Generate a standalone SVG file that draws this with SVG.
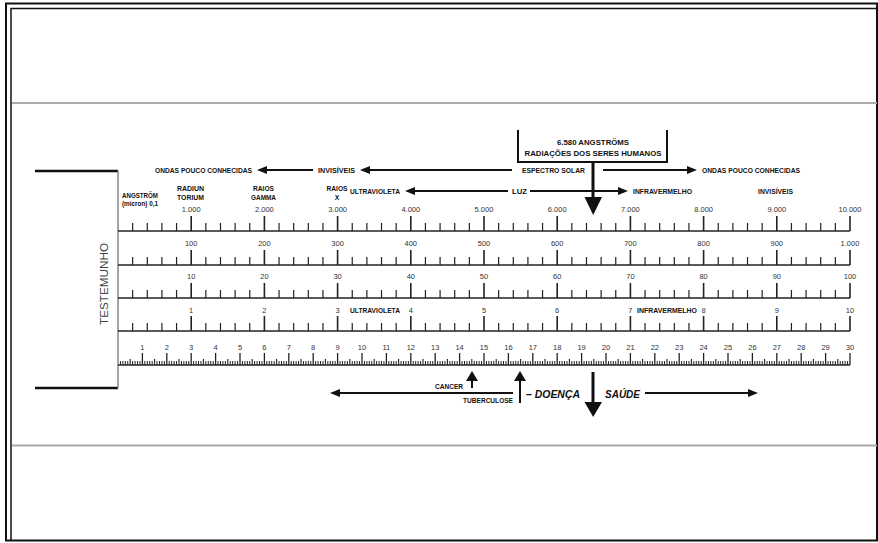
<svg xmlns="http://www.w3.org/2000/svg" width="878" height="543" viewBox="0 0 878 543">
<style>
.lbl{font-family:"Liberation Sans",Arial,sans-serif;font-weight:bold;font-size:8px;fill:#111}
.sm{font-size:6.8px}
.it{font-style:italic;font-size:10px}
.num{font-family:"Liberation Sans",Arial,sans-serif;font-size:7.5px;fill:#333;text-anchor:middle}
.ln{stroke:#111;stroke-width:2;fill:none}
.tk{stroke:#222;fill:none}
</style>
<defs>
<marker id="ah" viewBox="0 0 10 8" refX="7" refY="4" markerWidth="10" markerHeight="8" markerUnits="userSpaceOnUse" orient="auto"><path d="M0,0L10,4L0,8z" fill="#111"/></marker>
<marker id="ah2" viewBox="0 0 10 12" refX="7" refY="6" markerWidth="10" markerHeight="12" markerUnits="userSpaceOnUse" orient="auto"><path d="M0,0L10,6L0,12z" fill="#111"/></marker>
<g id="seg" class="tk"><path d="M14.64,0v-8M29.28,0v-8M43.92,0v-8M58.56,0v-8" stroke-width="1.2"/><path d="M73.2,0v-15" stroke-width="1.6"/></g>
<g id="row"><path d="M0,0H732" class="tk" stroke-width="1.6"/><use href="#seg" x="0"/><use href="#seg" x="73.2"/><use href="#seg" x="146.4"/><use href="#seg" x="219.6"/><use href="#seg" x="292.8"/><use href="#seg" x="366"/><use href="#seg" x="439.2"/><use href="#seg" x="512.4"/><use href="#seg" x="585.6"/><use href="#seg" x="658.8"/></g>
<g id="unit" class="tk"><path d="M2.44,0v-4M4.88,0v-4M7.32,0v-4M9.76,0v-4M14.64,0v-4M17.08,0v-4M19.52,0v-4M21.96,0v-4" stroke-width="1"/><path d="M12.2,0v-6" stroke-width="1.1"/><path d="M24.4,0v-12" stroke-width="1.3"/></g>
<g id="five"><use href="#unit" x="0"/><use href="#unit" x="24.4"/><use href="#unit" x="48.8"/><use href="#unit" x="73.2"/><use href="#unit" x="97.6"/></g>
</defs>
<rect width="878" height="543" fill="#fff"/>
<g id="frame">
<rect x="6" y="3.5" width="871" height="537" fill="none" stroke="#111" stroke-width="2"/>
<path d="M11,541V8.5H877" fill="none" stroke="#111" stroke-width="1.5"/>
<path d="M12,103H877M12,445.5H877" stroke="#aaa" stroke-width="2"/>
</g>
<g id="testemunho">
<path d="M35,171H118M35,388H118" stroke="#111" stroke-width="2.5"/>
<path d="M118,171V388" stroke="#888" stroke-width="1.5"/>
<text transform="translate(108,284) rotate(-90)" text-anchor="middle" font-family="Liberation Sans,Arial,sans-serif" font-size="10" fill="#444" textLength="82" lengthAdjust="spacingAndGlyphs">TESTEMUNHO</text>
</g>
<g id="scales">
<use href="#row" x="118" y="231"/>
<use href="#row" x="118" y="265"/>
<use href="#row" x="118" y="298"/>
<use href="#row" x="118" y="331"/>
<path d="M118,365H850" class="tk" stroke-width="1.6"/>
<g transform="translate(118,365)"><use href="#five" x="0"/><use href="#five" x="122"/><use href="#five" x="244"/><use href="#five" x="366"/><use href="#five" x="488"/><use href="#five" x="610"/></g>
</g>
<g id="row1-labels">
<text class="num" x="191.2" y="212">1.000</text><text class="num" x="264.4" y="212">2.000</text><text class="num" x="337.6" y="212">3.000</text><text class="num" x="410.8" y="212">4.000</text><text class="num" x="484" y="212">5.000</text><text class="num" x="557.2" y="212">6.000</text><text class="num" x="630.4" y="212">7.000</text><text class="num" x="703.6" y="212">8.000</text><text class="num" x="776.8" y="212">9.000</text><text class="num" x="850" y="212">10.000</text>
</g>
<g id="row2-labels">
<text class="num" x="191.2" y="246">100</text><text class="num" x="264.4" y="246">200</text><text class="num" x="337.6" y="246">300</text><text class="num" x="410.8" y="246">400</text><text class="num" x="484" y="246">500</text><text class="num" x="557.2" y="246">600</text><text class="num" x="630.4" y="246">700</text><text class="num" x="703.6" y="246">800</text><text class="num" x="776.8" y="246">900</text><text class="num" x="850" y="246">1.000</text>
</g>
<g id="row3-labels">
<text class="num" x="191.2" y="279">10</text><text class="num" x="264.4" y="279">20</text><text class="num" x="337.6" y="279">30</text><text class="num" x="410.8" y="279">40</text><text class="num" x="484" y="279">50</text><text class="num" x="557.2" y="279">60</text><text class="num" x="630.4" y="279">70</text><text class="num" x="703.6" y="279">80</text><text class="num" x="776.8" y="279">90</text><text class="num" x="850" y="279">100</text>
</g>
<g id="row4-labels">
<text class="num" x="191.2" y="313">1</text><text class="num" x="264.4" y="313">2</text><text class="num" x="337.6" y="313">3</text><text class="num" x="410.8" y="313">4</text><text class="num" x="484" y="313">5</text><text class="num" x="557.2" y="313">6</text><text class="num" x="630.4" y="313">7</text><text class="num" x="703.6" y="313">8</text><text class="num" x="776.8" y="313">9</text><text class="num" x="850" y="313">10</text>
<text class="lbl sm" x="350" y="313" textLength="50" lengthAdjust="spacingAndGlyphs">ULTRAVIOLETA</text>
<text class="lbl sm" x="637" y="313" textLength="60" lengthAdjust="spacingAndGlyphs">INFRAVERMELHO</text>
</g>
<g id="ruler-labels">
<text class="num" x="142.4" y="350">1</text><text class="num" x="166.8" y="350">2</text><text class="num" x="191.2" y="350">3</text><text class="num" x="215.6" y="350">4</text><text class="num" x="240" y="350">5</text><text class="num" x="264.4" y="350">6</text><text class="num" x="288.8" y="350">7</text><text class="num" x="313.2" y="350">8</text><text class="num" x="337.6" y="350">9</text><text class="num" x="362" y="350">10</text><text class="num" x="386.4" y="350">11</text><text class="num" x="410.8" y="350">12</text><text class="num" x="435.2" y="350">13</text><text class="num" x="459.6" y="350">14</text><text class="num" x="484" y="350">15</text><text class="num" x="508.4" y="350">16</text><text class="num" x="532.8" y="350">17</text><text class="num" x="557.2" y="350">18</text><text class="num" x="581.6" y="350">19</text><text class="num" x="606" y="350">20</text><text class="num" x="630.4" y="350">21</text><text class="num" x="654.8" y="350">22</text><text class="num" x="679.2" y="350">23</text><text class="num" x="703.6" y="350">24</text><text class="num" x="728" y="350">25</text><text class="num" x="752.4" y="350">26</text><text class="num" x="776.8" y="350">27</text><text class="num" x="801.2" y="350">28</text><text class="num" x="825.6" y="350">29</text><text class="num" x="850" y="350">30</text>
</g>
<g id="angstrom">
<text class="lbl sm" x="122" y="198" textLength="36" lengthAdjust="spacingAndGlyphs">ANGSTRÖM</text>
<text class="lbl sm" x="122" y="206" textLength="36" lengthAdjust="spacingAndGlyphs">(micron) 0,1</text>
</g>
<g id="radiun" text-anchor="middle">
<text class="lbl sm" x="190.5" y="191" textLength="27" lengthAdjust="spacingAndGlyphs">RADIUN</text>
<text class="lbl sm" x="190.5" y="200" textLength="27" lengthAdjust="spacingAndGlyphs">TORIUM</text>
</g>
<g id="gamma" text-anchor="middle">
<text class="lbl sm" x="263.5" y="191" textLength="21" lengthAdjust="spacingAndGlyphs">RAIOS</text>
<text class="lbl sm" x="263.5" y="200" textLength="25" lengthAdjust="spacingAndGlyphs">GAMMA</text>
</g>
<g id="raiosx" text-anchor="middle">
<text class="lbl sm" x="337" y="191" textLength="21" lengthAdjust="spacingAndGlyphs">RAIOS</text>
<text class="lbl sm" x="337" y="200">X</text>
</g>
<g id="ondas-left"><text class="lbl sm" x="155" y="173" textLength="97" lengthAdjust="spacingAndGlyphs">ONDAS POUCO CONHECIDAS</text></g>
<g id="invisiveis-left"><text class="lbl sm" x="318" y="173" textLength="37" lengthAdjust="spacingAndGlyphs">INVISÍVEIS</text></g>
<g id="espectro"><text class="lbl sm" x="522" y="173" textLength="63" lengthAdjust="spacingAndGlyphs">ESPECTRO SOLAR</text></g>
<g id="ondas-right"><text class="lbl sm" x="702" y="173" textLength="98" lengthAdjust="spacingAndGlyphs">ONDAS POUCO CONHECIDAS</text></g>
<g id="uv-top"><text class="lbl sm" x="350" y="194" textLength="50" lengthAdjust="spacingAndGlyphs">ULTRAVIOLETA</text></g>
<g id="luz"><text class="lbl sm" x="512" y="194" textLength="15" lengthAdjust="spacingAndGlyphs">LUZ</text></g>
<g id="ir-top"><text class="lbl sm" x="633" y="194" textLength="59" lengthAdjust="spacingAndGlyphs">INFRAVERMELHO</text></g>
<g id="invisiveis-right"><text class="lbl sm" x="758" y="194" textLength="35" lengthAdjust="spacingAndGlyphs">INVISÍVEIS</text></g>
<g id="box">
<path d="M518,130V162H667V130" class="ln"/>
<text class="lbl" x="593" y="145" text-anchor="middle" textLength="72" lengthAdjust="spacingAndGlyphs">6.580 ANGSTRÖMS</text>
<text class="lbl" x="593" y="156" text-anchor="middle" textLength="137" lengthAdjust="spacingAndGlyphs">RADIAÇÕES DOS SERES HUMANOS</text>
</g>
<g id="cancer"><text class="lbl sm" x="435" y="389" textLength="28" lengthAdjust="spacingAndGlyphs">CANCER</text></g>
<g id="tuberculose"><text class="lbl sm" x="463" y="403" textLength="50" lengthAdjust="spacingAndGlyphs">TUBERCULOSE</text></g>
<g id="doenca"><text class="lbl it" x="526" y="398" textLength="54" lengthAdjust="spacingAndGlyphs">– DOENÇA</text></g>
<g id="saude"><text class="lbl it" x="605" y="398" textLength="35" lengthAdjust="spacingAndGlyphs">SAÚDE</text></g>
<g id="connectors">
<path d="M313,170H260" class="ln" marker-end="url(#ah)"/>
<path d="M512,170H363" class="ln" marker-end="url(#ah)"/>
<path d="M603,170H694" class="ln" marker-end="url(#ah)"/>
<path d="M508,191H408" class="ln" marker-end="url(#ah)"/>
<path d="M530,191H625" class="ln" marker-end="url(#ah)"/>
<path d="M593,162V198" stroke="#111" stroke-width="3"/>
<path d="M584.5,197H602L593.2,215z" fill="#111"/>
<path d="M513,393H333" class="ln" marker-end="url(#ah)"/>
<path d="M645,393H755" class="ln" marker-end="url(#ah)"/>
<path d="M472,388V374" class="ln" marker-end="url(#ah2)"/>
<path d="M520,403V374" class="ln" marker-end="url(#ah2)"/>
<path d="M593,372V403" stroke="#111" stroke-width="3"/>
<path d="M584.5,402H602L593.2,417z" fill="#111"/>
</g>
</svg>
